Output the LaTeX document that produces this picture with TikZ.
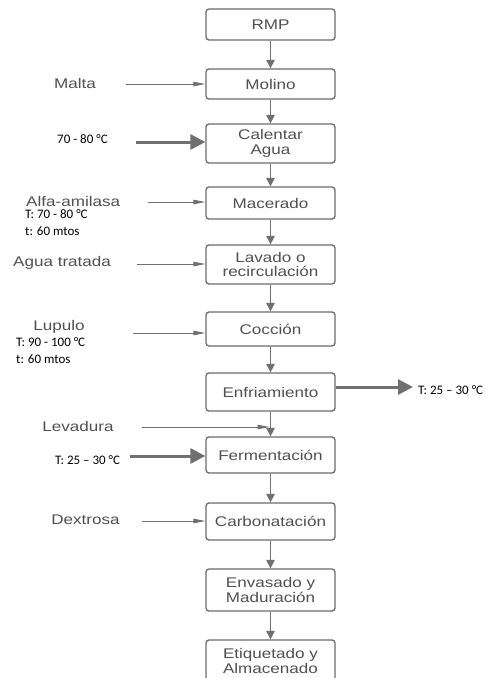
\documentclass[tikz,border=0pt]{standalone}
\usepackage{fontspec}
\setmainfont{Liberation Sans}[FakeStretch=1.22]
\newfontfamily\calfont{Carlito}
\usetikzlibrary{arrows.meta}
\definecolor{boxgray}{HTML}{6A6A6A}
\definecolor{arrgray}{HTML}{707070}
\definecolor{txtgray}{HTML}{505050}
\newcommand{\boxfont}{\fontsize{14}{14.5}\selectfont}
\newcommand{\tempfont}{\calfont\fontsize{13}{15}\selectfont}
\begin{document}
\begin{tikzpicture}[x=1pt,y=-1pt,
  box/.style={draw=boxgray,line width=1.3pt,rounded corners=3pt,fill=white,
    minimum width=129pt,align=center,font=\boxfont,text=txtgray},
  flow/.style={-{Triangle[length=8.5pt,width=8.5pt]},line width=1.4pt,draw=arrgray},
  feed/.style={-{Triangle[length=12pt,width=4.5pt]},line width=0.9pt,draw=arrgray},
  heat/.style={-{Triangle[length=15pt,width=15pt]},line width=3pt,draw=arrgray},
  lbl/.style={font=\boxfont,text=txtgray,inner sep=0pt},
  temp/.style={font=\tempfont,anchor=west,inner sep=0pt}]
  \useasboundingbox (0,0) rectangle (486,678);

  \node[box,minimum height=31pt] (rmp) at (270.5,24.5) {RMP};
  \node[box,minimum height=30pt] (molino) at (270.5,84) {Molino};
  \node[box,minimum height=39pt] (calentar) at (270.5,143.5) {Calentar\\Agua};
  \node[box,minimum height=32pt] (macerado) at (270.5,203) {Macerado};
  \node[box,minimum height=39pt] (lavado) at (270.5,264.5) {Lavado o\\recirculación};
  \node[box,minimum height=34pt] (coccion) at (270.5,329) {Cocción};
  \node[box,minimum height=38pt] (enfriamiento) at (270.5,392) {Enfriamiento};
  \node[box,minimum height=36pt] (fermentacion) at (270.5,455) {Fermentación};
  \node[box,minimum height=37pt] (carbonatacion) at (270.5,521.5) {Carbonatación};
  \node[box,minimum height=42pt] (envasado) at (270.5,590) {Envasado y\\Maduración};
  \node[box,minimum height=42pt] (etiquetado) at (270.5,661) {Etiquetado y\\Almacenado};

  \foreach \a/\b in {rmp/molino,molino/calentar,calentar/macerado,macerado/lavado,
      lavado/coccion,coccion/enfriamiento,enfriamiento/fermentacion,
      fermentacion/carbonatacion,carbonatacion/envasado,envasado/etiquetado}
    \draw[flow] (\a) -- (\b);

  \node[lbl] (malta) at (75,83) {Malta};
  \node[temp] (tcal) at (57,139) {70 - 80 °C};
  \node[lbl,anchor=west] (alfa) at (26,201) {Alfa-amilasa};
  \node[temp] (tmac) at (25,214) {T: 70 - 80 °C};
  \node[temp] (tmmac) at (25,231) {t: 60 mtos};
  \node[lbl,anchor=west] (agua) at (13,263) {Agua tratada};
  \node[lbl] (lupulo) at (59,327) {Lupulo};
  \node[temp] (tcoc) at (16,342) {T: 90 - 100 °C};
  \node[temp] (tmcoc) at (16,359) {t: 60 mtos};
  \node[temp] (tenf) at (418,390) {T: 25 – 30 °C};
  \node[lbl] (levadura) at (78,426) {Levadura};
  \node[temp] (tfer) at (55,460) {T: 25 – 30 °C};
  \node[lbl] (dextrosa) at (85.5,520) {Dextrosa};

  \coordinate (cmalta) at (126,84);
  \coordinate (ccal) at (136,142);
  \coordinate (calfa) at (148,202);
  \coordinate (cagua) at (137,264);
  \coordinate (clup) at (133,333);
  \coordinate (cenf) at (413,387);
  \coordinate (clev) at (142,427);
  \coordinate (clevend) at (269.5,427);
  \coordinate (cfer) at (130,456);
  \coordinate (cdex) at (142,521);

  \draw[feed] (cmalta) -- (cmalta -| molino.west);
  \draw[heat] (ccal) -- (ccal -| calentar.west);
  \draw[feed] (calfa) -- (calfa -| macerado.west);
  \draw[feed] (cagua) -- (cagua -| lavado.west);
  \draw[feed] (clup) -- (clup -| coccion.west);
  \draw[heat] (cenf -| enfriamiento.east) -- (cenf);
  \draw[feed] (clev) -- (clevend);
  \draw[heat] (cfer) -- (cfer -| fermentacion.west);
  \draw[feed] (cdex) -- (cdex -| carbonatacion.west);
\end{tikzpicture}
\end{document}
